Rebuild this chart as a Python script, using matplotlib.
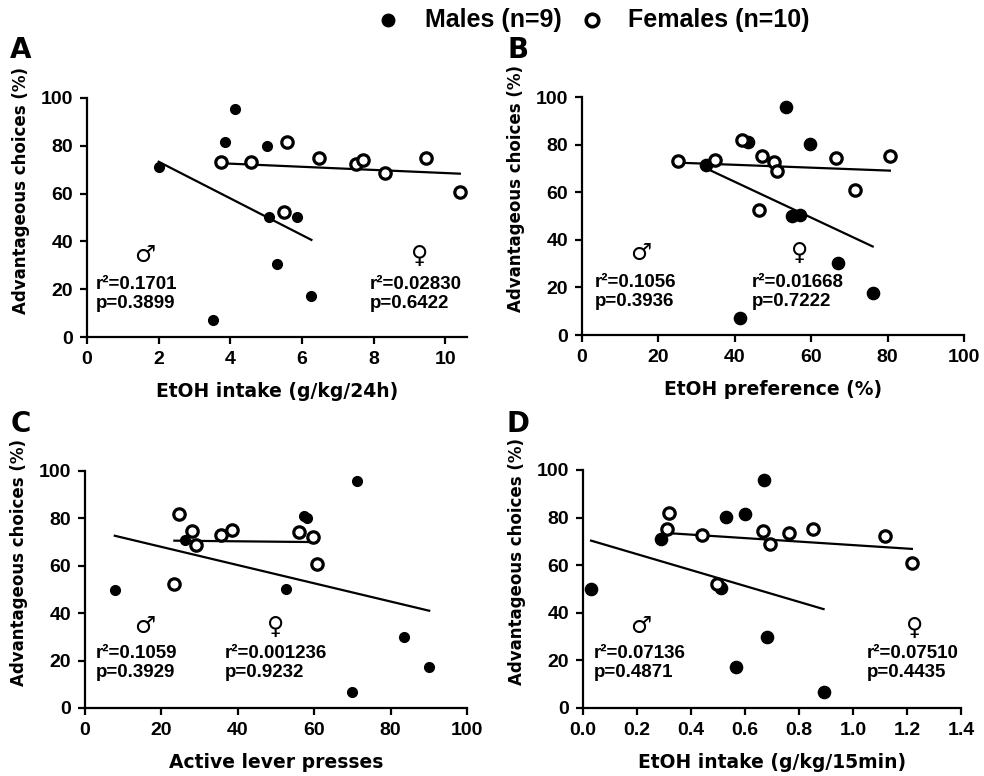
import numpy as np
import matplotlib
matplotlib.use("Agg")
import matplotlib.pyplot as plt
from matplotlib.lines import Line2D
from matplotlib.ticker import FormatStrFormatter

plt.rcParams.update({
    "font.family": ["Liberation Sans", "DejaVu Sans"],
    "font.weight": "bold",
    "axes.labelweight": "bold",
    "font.size": 13,
    "axes.linewidth": 1.6,
    "xtick.major.width": 1.6,
    "ytick.major.width": 1.6,
    "xtick.major.size": 5,
    "ytick.major.size": 5,
})

# ── data ─────────────────────────────────────────────────────────────────────
# A: EtOH intake (g/kg/24h)
a_male_x = [2.00, 3.85, 4.13, 5.01, 5.08, 5.86, 5.30, 6.26, 3.51]
a_male_y = [71.1, 81.4, 95.5, 80.0, 50.1, 50.3, 30.4, 17.3, 7.3]
a_fem_x = [3.75, 4.57, 5.58, 5.49, 6.46, 7.51, 7.69, 8.30, 9.46, 10.40]
a_fem_y = [73.1, 73.3, 81.4, 52.3, 75.1, 72.4, 74.2, 68.6, 75.0, 60.7]

# B: EtOH preference (%)
b_male_x = [32.5, 43.5, 53.3, 59.8, 55.1, 57.0, 67.1, 76.1, 41.4]
b_male_y = [71.4, 81.3, 96.0, 80.2, 50.0, 50.5, 30.4, 17.5, 7.3]
b_fem_x = [25.1, 34.7, 41.9, 47.0, 50.3, 51.1, 46.4, 66.5, 71.4, 80.6]
b_fem_y = [73.0, 73.6, 82.0, 75.3, 72.6, 68.8, 52.4, 74.4, 61.0, 75.1]

# C: active lever presses
c_male_x = [7.8, 26.1, 57.4, 58.2, 71.1, 52.5, 83.5, 90.1, 69.9]
c_male_y = [50.0, 71.0, 81.2, 80.1, 95.8, 50.3, 30.0, 17.4, 6.7]
c_fem_x = [24.5, 23.4, 27.9, 29.0, 35.5, 38.5, 56.1, 59.7, 60.7]
c_fem_y = [81.9, 52.2, 74.8, 68.7, 73.2, 75.0, 74.2, 72.3, 60.8]

# D: EtOH intake (g/kg/15min)
d_male_x = [0.030, 0.289, 0.530, 0.599, 0.670, 0.510, 0.681, 0.568, 0.891]
d_male_y = [49.9, 70.9, 80.1, 81.4, 95.9, 50.4, 30.0, 17.3, 6.7]
d_fem_x = [0.318, 0.311, 0.441, 0.497, 0.668, 0.691, 0.762, 0.852, 1.120, 1.218]
d_fem_y = [82.0, 75.1, 72.8, 52.2, 74.4, 68.7, 73.6, 75.4, 72.4, 60.8]

male_stats = ["r²=0.1701\np=0.3899", "r²=0.1056\np=0.3936",
              "r²=0.1059\np=0.3929", "r²=0.07136\np=0.4871"]
fem_stats = ["r²=0.02830\np=0.6422", "r²=0.01668\np=0.7222",
             "r²=0.001236\np=0.9232", "r²=0.07510\np=0.4435"]
x_labels = ["EtOH intake (g/kg/24h)", "EtOH preference (%)",
            "Active lever presses", "EtOH intake (g/kg/15min)"]
letters = ["A", "B", "C", "D"]

W, H = 984, 776
fig = plt.figure(figsize=(W / 100, H / 100), dpi=100)
WIDE = ["DejaVu Sans"]


def rect(l, t, r, b):
    return [l / W, 1 - b / H, (r - l) / W, (b - t) / H]


def ftxt(x, y, s, **kw):
    fig.text(x / W, 1 - y / H, s, **kw)


def panel(box, mx, my, fx, fy, xlim, xticks, xlab, ms_filled, fmt=None):
    ax = fig.add_axes(rect(*box))
    for sp in ("top", "right"):
        ax.spines[sp].set_visible(False)
    for xs, ys in ((mx, my), (fx, fy)):
        xs, ys = np.asarray(xs), np.asarray(ys)
        k, c = np.polyfit(xs, ys, 1)
        xx = np.array([xs.min(), xs.max()])
        ax.plot(xx, k * xx + c, color="black", lw=1.6, zorder=2)
    ax.plot(mx, my, "o", ms=ms_filled, color="black", mec="black",
            clip_on=False, zorder=3)
    ax.plot(fx, fy, "o", ms=8.2, mfc="white", mec="black", mew=2.3,
            clip_on=False, zorder=4)
    ax.set_xlim(*xlim)
    ax.set_ylim(0, 100)
    ax.set_xticks(xticks)
    ax.set_yticks(range(0, 101, 20))
    if fmt:
        ax.xaxis.set_major_formatter(FormatStrFormatter(fmt))
    ax.tick_params(labelsize=14, pad=5)
    ax.set_xlabel(xlab, fontsize=13.5, family=WIDE, labelpad=10)
    ax.set_ylabel("Advantageous choices (%)", fontsize=12, family=WIDE)
    ax.yaxis.set_label_coords(-0.15, 0.615)
    return ax


panel((87, 98, 467, 337), a_male_x, a_male_y, a_fem_x, a_fem_y,
      (0, 10.6), range(0, 11, 2), x_labels[0], 7)
panel((582, 97, 964, 335), b_male_x, b_male_y, b_fem_x, b_fem_y,
      (0, 100), range(0, 101, 20), x_labels[1], 8.8)
panel((85, 471, 467, 708), c_male_x, c_male_y, c_fem_x, c_fem_y,
      (0, 100), range(0, 101, 20), x_labels[2], 7)
panel((583, 470, 961, 708), d_male_x, d_male_y, d_fem_x, d_fem_y,
      (0, 1.4), np.arange(0, 1.41, 0.2), x_labels[3], 8.8, fmt="%.1f")

# stats annotations (pixel anchors)
male_pos = [(96, 294, 145, 255), (595, 292, 641, 253),
            (96, 663, 145, 626), (594, 663, 641, 626)]
fem_pos = [(370, 294, 420, 256), (752, 292, 800, 253),
           (225, 663, 276, 627), (867, 663, 915, 628)]
for stats, pos, sym in ((male_stats, male_pos, "♂"), (fem_stats, fem_pos, "♀")):
    for txt, (tx, ty, sx, sy) in zip(stats, pos):
        ftxt(tx, ty, txt, fontsize=13.5, ha="left", va="center",
             linespacing=1.15)
        ftxt(sx, sy, sym, fontsize=17, family=WIDE, weight="normal",
             ha="center", va="center")

for let, (lx, ly) in zip(letters, [(21, 50), (518, 50), (21, 424), (518, 424)]):
    ftxt(lx, ly, let, fontsize=20, family=WIDE, weight="bold",
         ha="center", va="center")

# legend row at the top
fig.add_artist(Line2D([388 / W], [1 - 20 / H], marker="o", ms=9,
                      color="black", transform=fig.transFigure))
fig.add_artist(Line2D([592 / W], [1 - 20 / H], marker="o", ms=9, mfc="white",
                      mec="black", mew=2.6, transform=fig.transFigure))
ftxt(425, 20, "Males (n=9)", fontsize=18, ha="left", va="center")
ftxt(628, 20, "Females (n=10)", fontsize=18, ha="left", va="center")

fig.savefig("out.png", dpi=100)
